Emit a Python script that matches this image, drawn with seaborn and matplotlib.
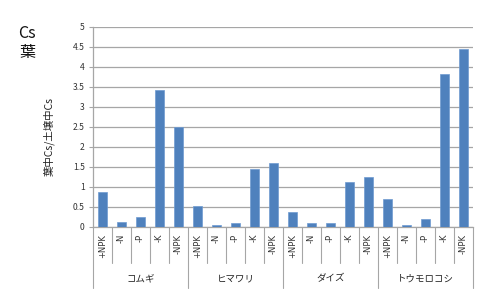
import matplotlib
matplotlib.use("Agg")
import matplotlib.pyplot as plt
import matplotlib.transforms as mtransforms
from matplotlib.ticker import FormatStrFormatter, MultipleLocator
import seaborn as sns
import pandas as pd

groups = ["コムギ", "ヒマワリ", "ダイズ", "トウモロコシ"]
treatments = ["+NPK", "-N", "-P", "-K", "-NPK"]
values_komugi = [0.87, 0.13, 0.24, 3.42, 2.51]
values_himawari = [0.53, 0.04, 0.11, 1.45, 1.60]
values_daizu = [0.37, 0.11, 0.11, 1.13, 1.26]
values_tomorokoshi = [0.71, 0.06, 0.21, 3.83, 4.44]
all_values = [values_komugi, values_himawari, values_daizu, values_tomorokoshi]

rows = []
for g, vals in zip(groups, all_values):
    for t, v in zip(treatments, vals):
        rows.append({"key": f"{g}|{t}", "group": g, "treatment": t, "value": v})
df = pd.DataFrame(rows)

sns.set_theme(style="white")
plt.rcParams["font.family"] = ["Noto Sans CJK JP", "DejaVu Sans"]

fig = plt.figure(figsize=(5.0, 3.04), dpi=100)
ax = fig.add_axes([93 / 500, 1 - 227 / 304, 380 / 500, 200 / 304])

sns.barplot(data=df, x="key", y="value", order=list(df["key"]), color="#4F81BD",
            width=0.45, saturation=1, ax=ax, edgecolor="#6f9bd1", linewidth=0.5, zorder=3)

ax.set_ylim(0, 5)
ax.set_xlim(-0.5, len(df) - 0.5)
ax.yaxis.set_major_locator(MultipleLocator(0.5))
ax.yaxis.set_major_formatter(FormatStrFormatter("%g"))
ax.grid(axis="y", color="#a6a6a6", linewidth=0.9, zorder=0)
ax.set_axisbelow(True)

for s in ["top", "right"]:
    ax.spines[s].set_visible(False)
ax.spines["left"].set_color("#a6a6a6")
ax.spines["bottom"].set_color("#a6a6a6")
ax.spines["left"].set_linewidth(0.9)
ax.spines["bottom"].set_linewidth(0.9)

ax.tick_params(axis="y", which="major", length=3, width=0.8, color="#a6a6a6",
               labelsize=6.2, pad=3, labelcolor="#333333", left=True)
ax.set_xticks(range(len(df)))
ax.set_xticklabels(list(df["treatment"]), rotation=90, fontsize=6, color="#333333",
                   family=["DejaVu Sans"])
ax.tick_params(axis="x", length=0, pad=5)

ax.set_xlabel("")
ax.set_ylabel("葉中Cs/土壌中Cs", fontsize=7.5, color="#222222")
ax.yaxis.set_label_coords(-0.1, 0.45)

trans = mtransforms.blended_transform_factory(ax.transData, ax.transAxes)
n = len(df)
for i in range(n + 1):
    x = i - 0.5
    if i % len(treatments) == 0:
        y1 = -(288 - 227) / 200
    else:
        y1 = -(263 - 227) / 200
    ax.plot([x, x], [0, y1], transform=trans, color="#a6a6a6", linewidth=0.8,
            clip_on=False)

for gi, g in enumerate(groups):
    xc = gi * len(treatments) + (len(treatments) - 1) / 2
    ax.text(xc, -(279 - 227) / 200, g, transform=trans, ha="center", va="center",
            fontsize=6.8, color="#222222")

fig.text(18 / 500, 1 - 33 / 304, "Cs", fontsize=11.5, ha="left", va="center", color="#111111")
fig.text(19 / 500, 1 - 52 / 304, "葉", fontsize=11.5, ha="left", va="center", color="#111111")

fig.savefig("out.png", dpi=100)
